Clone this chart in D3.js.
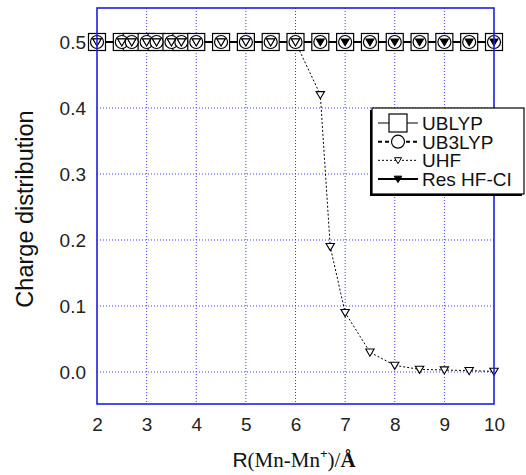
<!DOCTYPE html>
<html>
<head>
<meta charset="utf-8">
<script src="https://cdn.jsdelivr.net/npm/d3@7"></script>
<style>
  body { margin: 0; background: #fff; }
  svg { display: block; }
</style>
</head>
<body>
<div id="chart"></div>
<script>
const rx = [2, 2.5, 2.7, 3, 3.2, 3.5, 3.7, 4, 4.5, 5, 5.5, 6, 6.5, 7, 7.5, 8, 8.5, 9, 9.5, 10];
const ublyp = [0.5, 0.5, 0.5, 0.5, 0.5, 0.5, 0.5, 0.5, 0.5, 0.5, 0.5, 0.5, 0.5, 0.5, 0.5, 0.5, 0.5, 0.5, 0.5, 0.5];
const ub3lyp = [0.5, 0.5, 0.5, 0.5, 0.5, 0.5, 0.5, 0.5, 0.5, 0.5, 0.5, 0.5, 0.5, 0.5, 0.5, 0.5, 0.5, 0.5, 0.5, 0.5];
const reshfci = [0.5, 0.5, 0.5, 0.5, 0.5, 0.5, 0.5, 0.5, 0.5, 0.5, 0.5, 0.5, 0.5, 0.5, 0.5, 0.5, 0.5, 0.5, 0.5, 0.5];
const uhfX = [2, 2.5, 2.7, 3, 3.2, 3.5, 3.7, 4, 4.5, 5, 5.5, 6, 6.5, 6.7, 7, 7.5, 8, 8.5, 9, 9.5, 10];
const uhf = [0.5, 0.5, 0.5, 0.5, 0.5, 0.5, 0.5, 0.5, 0.5, 0.5, 0.5, 0.5, 0.42, 0.19, 0.09, 0.03, 0.01, 0.004, 0.003, 0.002, 0.001];
const xTicks = [2, 3, 4, 5, 6, 7, 8, 9, 10];
const yTicks = [0.0, 0.1, 0.2, 0.3, 0.4, 0.5];
const legendNames = ["UBLYP", "UB3LYP", "UHF", "Res HF-CI"];

const width = 526, height = 475;
const margin = {top: 8, right: 32, bottom: 71, left: 97};

const x = d3.scaleLinear().domain([2, 10]).range([margin.left, width - margin.right]);
const y = d3.scaleLinear().domain([-0.0485, 0.5515]).range([height - margin.bottom, margin.top]);

const svg = d3.select("#chart").append("svg")
  .attr("width", width)
  .attr("height", height)
  .style("font-family", "'Liberation Sans', Arial, sans-serif");

const gridColor = "#3b3bf0";

// grid
svg.append("g")
  .selectAll("line")
  .data(xTicks.slice(1, -1))
  .join("line")
  .attr("x1", d => x(d)).attr("x2", d => x(d))
  .attr("y1", margin.top).attr("y2", height - margin.bottom)
  .attr("stroke", gridColor).attr("stroke-width", 1)
  .attr("stroke-dasharray", "1,2");

svg.append("g")
  .selectAll("line")
  .data(yTicks)
  .join("line")
  .attr("x1", margin.left).attr("x2", width - margin.right)
  .attr("y1", d => y(d)).attr("y2", d => y(d))
  .attr("stroke", gridColor).attr("stroke-width", 1)
  .attr("stroke-dasharray", "1,2");

// axes labels
const xAxis = d3.axisBottom(x).tickValues(xTicks).tickSize(0).tickPadding(14)
  .tickFormat(d3.format("d"));
svg.append("g")
  .attr("transform", `translate(0,${height - margin.bottom})`)
  .call(xAxis)
  .call(g => g.select(".domain").remove())
  .call(g => g.selectAll("text").attr("font-size", 19).attr("fill", "#222")
    .attr("font-family", "'Liberation Sans', Arial, sans-serif"));

const yAxis = d3.axisLeft(y).tickValues(yTicks).tickSize(0).tickPadding(11)
  .tickFormat(d3.format(".1f"));
svg.append("g")
  .attr("transform", `translate(${margin.left},0)`)
  .call(yAxis)
  .call(g => g.select(".domain").remove())
  .call(g => g.selectAll("text").attr("font-size", 19).attr("fill", "#222")
    .attr("font-family", "'Liberation Sans', Arial, sans-serif"));

// series
const lineOf = (xs, ys) => d3.line().x((d, i) => x(xs[i])).y(d => y(d))(ys);

function drawLine(xs, ys, width, dash) {
  svg.append("path")
    .attr("d", lineOf(xs, ys))
    .attr("fill", "none")
    .attr("stroke", "#000")
    .attr("stroke-width", width)
    .attr("stroke-dasharray", dash);
}

drawLine(rx, ublyp, 1, null);
drawLine(rx, ub3lyp, 2, "4,3");
drawLine(rx, reshfci, 2.2, null);
drawLine(uhfX, uhf, 1, "2,2");

const tri = (cx, cy, s) => `M${cx - s},${cy - s * 0.75}L${cx + s},${cy - s * 0.75}L${cx},${cy + s * 0.95}Z`;

function squares(xs, ys, s) {
  svg.append("g").selectAll("rect").data(ys).join("rect")
    .attr("x", (d, i) => x(xs[i]) - s / 2).attr("y", d => y(d) - s / 2)
    .attr("width", s).attr("height", s)
    .attr("fill", "#fff").attr("stroke", "#000").attr("stroke-width", 1.2);
}
function circles(xs, ys, r) {
  svg.append("g").selectAll("circle").data(ys).join("circle")
    .attr("cx", (d, i) => x(xs[i])).attr("cy", d => y(d)).attr("r", r)
    .attr("fill", "#fff").attr("stroke", "#000").attr("stroke-width", 1.2);
}
function triangles(xs, ys, s, filled) {
  svg.append("g").selectAll("path").data(ys).join("path")
    .attr("d", (d, i) => tri(x(xs[i]), y(d), s))
    .attr("fill", filled ? "#000" : "#fff").attr("stroke", "#000").attr("stroke-width", 1.1);
}

squares(rx, ublyp, 17);
circles(rx, ub3lyp, 6.5);
triangles(rx, reshfci, 4, true);
triangles(uhfX, uhf, 4.2, false);

// frame
svg.append("rect")
  .attr("x", margin.left).attr("y", margin.top)
  .attr("width", width - margin.left - margin.right)
  .attr("height", height - margin.top - margin.bottom)
  .attr("fill", "none").attr("stroke", "#1f1fe6").attr("stroke-width", 1.6);

// axis titles
svg.append("text")
  .attr("transform", `translate(33,${(margin.top + height - margin.bottom) / 2 + 3}) rotate(-90)`)
  .attr("text-anchor", "middle")
  .attr("font-size", 23.5)
  .attr("fill", "#111")
  .text("Charge distribution");

const xt = svg.append("text")
  .attr("x", 294).attr("y", 467)
  .attr("text-anchor", "middle")
  .attr("font-size", 21)
  .attr("fill", "#111");
xt.append("tspan").attr("font-family", "'Liberation Sans', Arial, sans-serif").text("R");
xt.append("tspan").attr("font-family", "'Liberation Serif', 'Times New Roman', serif").text("(Mn-Mn");
xt.append("tspan").attr("font-family", "'Liberation Sans', Arial, sans-serif")
  .attr("font-size", 13).attr("dy", -9).text("+");
xt.append("tspan").attr("font-family", "'Liberation Serif', 'Times New Roman', serif")
  .attr("dy", 9).text(")/");
xt.append("tspan").attr("font-family", "'Liberation Serif', 'Times New Roman', serif")
  .attr("font-weight", "bold").text("Å");

// legend
const lg = svg.append("g").attr("transform", "translate(372,108)");
lg.append("rect").attr("x", -2).attr("y", 2).attr("width", 152).attr("height", 86).attr("fill", "#000");
lg.append("rect").attr("x", 0).attr("y", 0).attr("width", 152).attr("height", 86)
  .attr("fill", "#fff").attr("stroke", "#000").attr("stroke-width", 1.2);

const rowY = d3.scalePoint().domain(legendNames).range([15, 71]);
const styles = [
  {w: 1, dash: null}, {w: 2, dash: "4,3"}, {w: 1, dash: "2,2"}, {w: 2.2, dash: null}
];
legendNames.forEach((name, i) => {
  const yy = rowY(name);
  lg.append("line").attr("x1", 6).attr("x2", 46).attr("y1", yy).attr("y2", yy)
    .attr("stroke", "#000").attr("stroke-width", styles[i].w)
    .attr("stroke-dasharray", styles[i].dash);
  if (i === 0) lg.append("rect").attr("x", 17).attr("y", yy - 9).attr("width", 18).attr("height", 18)
    .attr("fill", "#fff").attr("stroke", "#000").attr("stroke-width", 1.2);
  if (i === 1) lg.append("circle").attr("cx", 26).attr("cy", yy).attr("r", 6.5)
    .attr("fill", "#fff").attr("stroke", "#000").attr("stroke-width", 1.2);
  if (i === 2) lg.append("path").attr("d", tri(26, yy, 3.5))
    .attr("fill", "#fff").attr("stroke", "#000").attr("stroke-width", 1);
  if (i === 3) lg.append("path").attr("d", tri(26, yy, 3.8))
    .attr("fill", "#000").attr("stroke", "#000").attr("stroke-width", 1);
  lg.append("text").attr("x", 50).attr("y", yy + 7)
    .attr("font-size", 19).attr("textLength", null).attr("fill", "#111").text(name);
});
</script>
</body>
</html>
